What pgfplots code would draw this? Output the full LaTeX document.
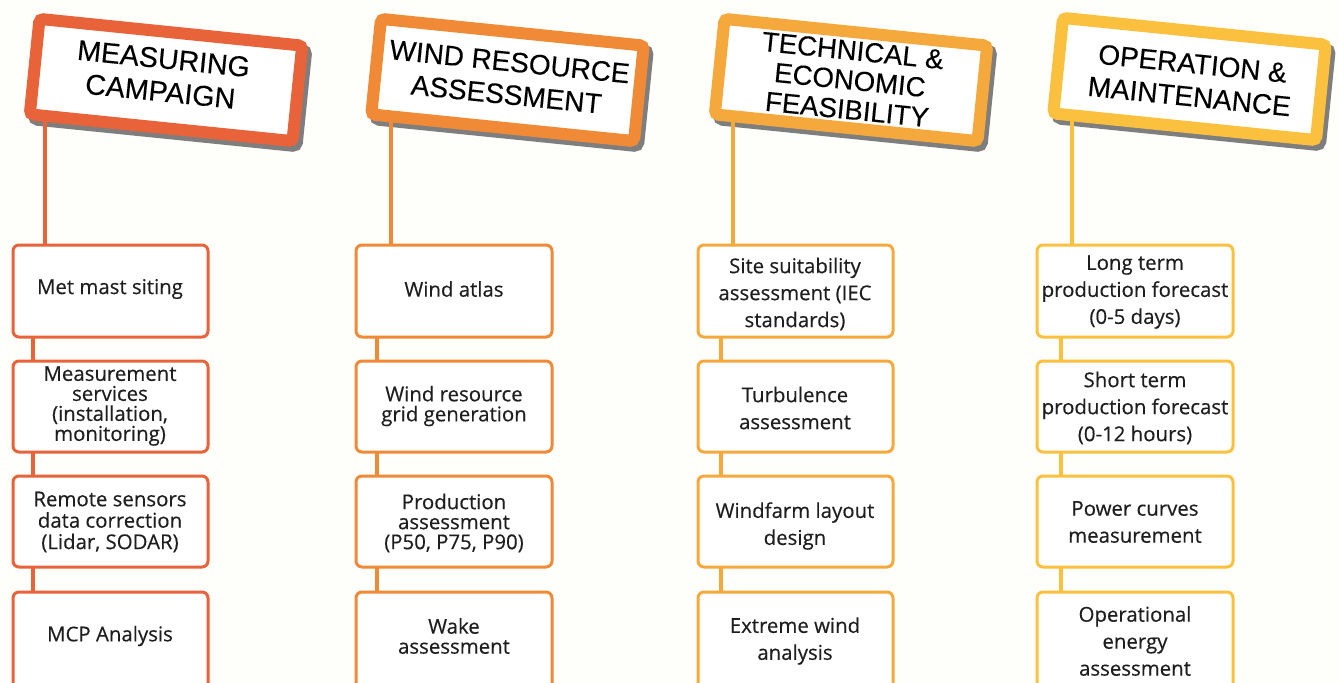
\documentclass[border=0pt]{standalone}
\usepackage{pgfplots}
\pgfplotsset{compat=1.18}
\usepackage{fontspec}
\setmainfont{Open Sans}[FakeBold=0.35]
\newfontfamily\headfont{Liberation Sans}[FakeBold=0.2]
\newfontfamily\stepfont{Open Sans}[FakeBold=0.35]
\definecolor{bg}{HTML}{FEFEFA}
\definecolor{cA}{HTML}{E8623A}
\definecolor{cB}{HTML}{F08A36}
\definecolor{cC}{HTML}{F5A93C}
\definecolor{cD}{HTML}{FBC13E}
\definecolor{shd}{HTML}{7E7E7E}
\definecolor{txt}{HTML}{1E1E1E}
% small step box: x1 x2 y1 y2 colour
\newcommand{\stepbox}[5]{\addplot[draw=#5, fill=white, line width=1.5pt, rounded corners=3pt] coordinates {(#1,#3) (#2,#3) (#2,#4) (#1,#4)} -- cycle;}
\newcommand{\conn}[4]{\addplot[draw=#4, line width=2pt] coordinates {(#1,#2) (#1,#3)};}
\begin{document}
\begin{tikzpicture}
\begin{axis}[width=669.5pt, height=341pt, scale only axis,
  xmin=0, xmax=1339, ymin=0, ymax=682, y dir=reverse,
  axis lines=none, ticks=none, clip=true]
% ---------- background ----------
\addplot[draw=none, fill=bg] coordinates {(0,0) (1339,0) (1339,682) (0,682)} -- cycle;
% ---------- header shadows ----------
\addplot[draw=shd, fill=shd, line width=6pt, rounded corners=2pt] coordinates {(43.5,23.9) (306.2,50.6) (296.5,146.1) (33.8,119.4)} -- cycle;
\addplot[draw=shd, fill=shd, line width=6pt, rounded corners=2pt] coordinates {(385,23.9) (647.7,50.6) (638,146.1) (375.3,119.4)} -- cycle;
\addplot[draw=shd, fill=shd, line width=6pt, rounded corners=2pt] coordinates {(728.5,23.9) (991.2,50.6) (981.5,146.1) (718.8,119.4)} -- cycle;
\addplot[draw=shd, fill=shd, line width=6pt, rounded corners=2pt] coordinates {(1067,22.9) (1329.7,49.6) (1320,145.1) (1057.3,118.4)} -- cycle;
% ---------- stems ----------
\conn{45}{110}{245}{cA}
\conn{391}{110}{245}{cB}
\conn{733}{110}{245}{cC}
\conn{1072}{110}{245}{cD}
% ---------- headers ----------
\addplot[draw=cA, fill=white, line width=6pt, rounded corners=2pt] coordinates {(39.5,18.9) (302.2,45.6) (292.5,141.1) (29.8,114.4)} -- cycle;
\addplot[draw=cB, fill=white, line width=6pt, rounded corners=2pt] coordinates {(381,18.9) (643.7,45.6) (634,141.1) (371.3,114.4)} -- cycle;
\addplot[draw=cC, fill=white, line width=6pt, rounded corners=2pt] coordinates {(724.5,18.9) (987.2,45.6) (977.5,141.1) (714.8,114.4)} -- cycle;
\addplot[draw=cD, fill=white, line width=6pt, rounded corners=2pt] coordinates {(1063,17.9) (1325.7,44.6) (1316,140.1) (1053.3,113.4)} -- cycle;
% ---------- connectors ----------
\conn{33}{337}{361}{cA} \conn{33}{452}{476}{cA} \conn{33}{567}{592}{cA}
\conn{377}{337}{361}{cB} \conn{377}{452}{476}{cB} \conn{377}{567}{592}{cB}
\conn{721}{337}{361}{cC} \conn{721}{452}{476}{cC} \conn{721}{567}{592}{cC}
\conn{1061}{337}{361}{cD} \conn{1061}{452}{476}{cD} \conn{1061}{567}{592}{cD}
% ---------- step boxes ----------
\stepbox{13}{208}{245}{337}{cA} \stepbox{13}{208}{361}{452}{cA}
\stepbox{13}{208}{476}{567}{cA} \stepbox{13}{208}{592}{700}{cA}
\stepbox{356}{552}{245}{337}{cB} \stepbox{356}{552}{361}{452}{cB}
\stepbox{356}{552}{476}{567}{cB} \stepbox{356}{552}{592}{700}{cB}
\stepbox{698}{893}{245}{337}{cC} \stepbox{698}{893}{361}{452}{cC}
\stepbox{698}{893}{476}{567}{cC} \stepbox{698}{893}{592}{700}{cC}
\stepbox{1037}{1233}{245}{337}{cD} \stepbox{1037}{1233}{361}{452}{cD}
\stepbox{1037}{1233}{476}{567}{cD} \stepbox{1037}{1233}{592}{700}{cD}
% ---------- header texts ----------
\node[rotate=-5.8, align=center, text=black, font=\headfont\fontsize{14.3}{16.5}\selectfont] at (axis cs:162,75) {MEASURING\\CAMPAIGN};
\node[rotate=-5.8, align=center, text=black, font=\headfont\fontsize{14}{16.5}\selectfont] at (axis cs:508,78) {WIND RESOURCE\\ASSESSMENT};
\node[rotate=-5.8, align=center, text=black, font=\headfont\fontsize{13.8}{14.8}\selectfont] at (axis cs:850,80) {TECHNICAL \&\\ECONOMIC\\FEASIBILITY};
\node[rotate=-5.8, align=center, text=black, font=\headfont\fontsize{14}{16.5}\selectfont] at (axis cs:1191,80) {OPERATION \&\\MAINTENANCE};
% ---------- step texts ----------
\node[align=center, text=txt, font=\stepfont\fontsize{10.2}{10}\selectfont] at (axis cs:110,289) {Met mast siting};
\node[align=center, text=txt, font=\stepfont\fontsize{10.2}{10}\selectfont] at (axis cs:110,406) {Measurement\\services\\(installation,\\monitoring)};
\node[align=center, text=txt, font=\stepfont\fontsize{10.2}{10.7}\selectfont] at (axis cs:110,522) {Remote sensors\\data correction\\(Lidar, SODAR)};
\node[align=center, text=txt, font=\stepfont\fontsize{10.2}{10}\selectfont] at (axis cs:110,636) {MCP Analysis};
\node[align=center, text=txt, font=\stepfont\fontsize{10.2}{10}\selectfont] at (axis cs:454,289) {Wind atlas};
\node[align=center, text=txt, font=\stepfont\fontsize{10.2}{10}\selectfont] at (axis cs:454,406) {Wind resource\\grid generation};
\node[align=center, text=txt, font=\stepfont\fontsize{10.2}{10}\selectfont] at (axis cs:454,523) {Production\\assessment\\(P50, P75, P90)};
\node[align=center, text=txt, font=\stepfont\fontsize{10.2}{10}\selectfont] at (axis cs:454,636) {Wake\\assessment};
\node[align=center, text=txt, font=\stepfont\fontsize{10.2}{13.5}\selectfont] at (axis cs:795,294) {Site suitability\\assessment (IEC\\standards)};
\node[align=center, text=txt, font=\stepfont\fontsize{10.2}{13.5}\selectfont] at (axis cs:795,408) {Turbulence\\assessment};
\node[align=center, text=txt, font=\stepfont\fontsize{10.2}{13.5}\selectfont] at (axis cs:795,526) {Windfarm layout\\design};
\node[align=center, text=txt, font=\stepfont\fontsize{10.2}{13.5}\selectfont] at (axis cs:795,641) {Extreme wind\\analysis};
\node[align=center, text=txt, font=\stepfont\fontsize{10.2}{13.5}\selectfont] at (axis cs:1135,292) {Long term\\production forecast\\(0-5 days)};
\node[align=center, text=txt, font=\stepfont\fontsize{10.2}{13.5}\selectfont] at (axis cs:1135,408) {Short term\\production forecast\\(0-12 hours)};
\node[align=center, text=txt, font=\stepfont\fontsize{10.2}{13.5}\selectfont] at (axis cs:1135,522) {Power curves\\measurement};
\node[align=center, text=txt, font=\stepfont\fontsize{10.2}{13.5}\selectfont] at (axis cs:1135,641) {Operational\\energy\\assessment};
\end{axis}
\end{tikzpicture}
\end{document}
